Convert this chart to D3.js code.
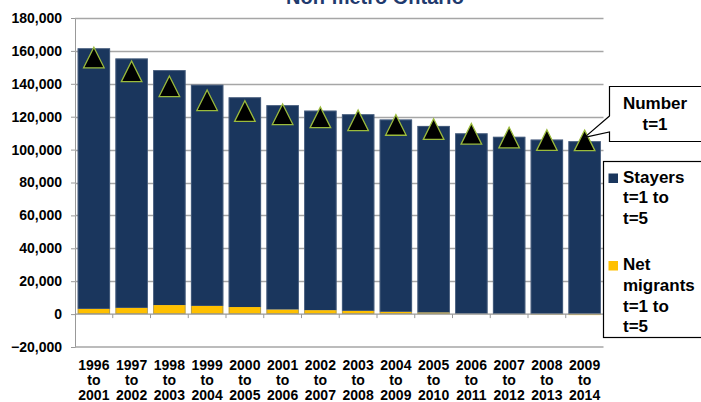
<!DOCTYPE html>
<html>
<head>
<meta charset="utf-8">
<script src="https://cdn.jsdelivr.net/npm/d3@7"></script>
<style>
  body { margin: 0; background: #fff; }
  svg { display: block; font-family: "Liberation Sans", Arial, sans-serif; font-weight: bold; }
  .tick text { fill: #000; }
</style>
</head>
<body>
<div class="chart"></div>
<script>
// periods on the x axis
const periods = ['1996 to 2001', '1997 to 2002', '1998 to 2003', '1999 to 2004', '2000 to 2005',
  '2001 to 2006', '2002 to 2007', '2003 to 2008', '2004 to 2009', '2005 to 2010',
  '2006 to 2011', '2007 to 2012', '2008 to 2013', '2009 to 2014'];
// series
const stayers = [158400, 151600, 142800, 134400, 127500, 124200, 121300, 119500, 116900, 113400, 109700, 107800, 106100, 105100];
const netMigrants = [3200, 3800, 5500, 5000, 4300, 2800, 2400, 2000, 1400, 1000, 200, -100, -300, -600];
const numberT1 = [156000, 147600, 138500, 130000, 123400, 121500, 119600, 117800, 115000, 112500, 109600, 107300, 105800, 105600];
const yTicks = [-20000, 0, 20000, 40000, 60000, 80000, 100000, 120000, 140000, 160000, 180000];

const W = 701, H = 402;
const plotL = 75, plotR = 603.5, plotT = 18, plotB = 347;

const svg = d3.select(".chart").append("svg")
  .attr("width", W)
  .attr("height", H);

// scales
const x = d3.scaleBand()
  .domain(periods)
  .range([plotL, plotR])
  .paddingInner(0.14)
  .paddingOuter(0.07);
const y = d3.scaleLinear()
  .domain([-20000, 180000])
  .range([plotB, plotT]);

// gridlines + y labels
const yAxis = svg.append("g")
  .attr("transform", `translate(${plotL},0)`)
  .call(d3.axisLeft(y).tickValues(yTicks).tickSize(4).tickPadding(9).tickFormat(d3.format(",")));
yAxis.select(".domain").attr("stroke", "#999");
yAxis.selectAll(".tick line").attr("stroke", "#999");
yAxis.selectAll(".tick text").style("font-size", "14px").style("font-weight", "bold");
svg.append("g").selectAll("line")
  .data(yTicks.filter(d => d > 0))
  .enter().append("line")
    .attr("x1", plotL).attr("x2", plotR)
    .attr("y1", d => Math.round(y(d)) + 0.5).attr("y2", d => Math.round(y(d)) + 0.5)
    .attr("stroke", "#a6a6a6")
    .attr("stroke-width", 1.3);
// bottom line
svg.append("line")
  .attr("x1", plotL).attr("x2", plotR)
  .attr("y1", y(-20000)).attr("y2", y(-20000))
  .attr("stroke", "#a6a6a6").attr("stroke-width", 1.3);

// stacked bars
const table = periods.map((p, i) => ({ period: p, net: netMigrants[i], stayers: stayers[i] }));
const series = d3.stack()
  .keys(["net", "stayers"])
  .offset(d3.stackOffsetDiverging)(table);
const color = { net: "#ffc000", stayers: "#1a365d" };

svg.append("g").selectAll("g")
  .data(series)
  .enter().append("g")
    .attr("fill", d => color[d.key])
  .selectAll("rect")
  .data(d => d)
  .enter().append("rect")
    .attr("x", d => x(d.data.period))
    .attr("width", x.bandwidth())
    .attr("y", d => y(Math.max(d[0], d[1])))
    .attr("height", d => Math.abs(y(d[0]) - y(d[1])));

// bar outline
svg.append("g").selectAll("rect")
  .data(table)
  .enter().append("rect")
    .attr("x", d => x(d.period) + 0.5)
    .attr("width", x.bandwidth() - 1)
    .attr("y", d => y(d.stayers + Math.max(d.net, 0)) + 0.5)
    .attr("height", d => y(0) - y(d.stayers + Math.max(d.net, 0)) - 1)
    .attr("fill", "none")
    .attr("stroke", "#6d7f99")
    .attr("stroke-width", 0.8)
    .attr("stroke-opacity", 0.6);

// zero line with category ticks
svg.append("line")
  .attr("x1", plotL).attr("x2", plotR)
  .attr("y1", y(0)).attr("y2", y(0))
  .attr("stroke", "#999").attr("stroke-width", 1.3);
svg.append("g").selectAll("line")
  .data(d3.range(1, periods.length))
  .enter().append("line")
    .attr("x1", i => plotL + (plotR - plotL) * i / periods.length)
    .attr("x2", i => plotL + (plotR - plotL) * i / periods.length)
    .attr("y1", y(0)).attr("y2", y(0) + 4)
    .attr("stroke", "#999");

// x labels
const xl = svg.append("g").selectAll("text")
  .data(periods)
  .enter().append("text")
    .attr("text-anchor", "middle")
    .attr("x", d => x(d) + x.bandwidth() / 2)
    .attr("y", 369.5)
    .style("font-size", "14px");
xl.selectAll("tspan")
  .data(d => d.split(" "))
  .enter().append("tspan")
    .attr("x", function () { return d3.select(this.parentNode).attr("x"); })
    .attr("dy", (d, i) => i === 0 ? 0 : 15)
    .text(d => d);

// triangle markers
const tri = 10.3;
svg.append("g").selectAll("path")
  .data(numberT1)
  .enter().append("path")
    .attr("transform", (d, i) => `translate(${x(periods[i]) + x.bandwidth() / 2},${y(d)})`)
    .attr("d", `M0,${-tri}L${tri},${tri}L${-tri},${tri}Z`)
    .attr("fill", "#000")
    .attr("stroke", "#9bbb3c")
    .attr("stroke-width", 1.3);

// title (cut by the top edge)
svg.append("text")
  .attr("x", 375).attr("y", 4)
  .attr("text-anchor", "middle")
  .attr("fill", "#1f3a6e")
  .style("font-size", "20px")
  .text("Non-metro Ontario");

// callout for the triangles
const tipX = x(periods[13]) + x.bandwidth() / 2, tipY = y(numberT1[13]) - 3;
svg.append("path")
  .attr("d", `M609.5,116 L${tipX},${tipY} L609.5,132 L609.5,141.5 L705,141.5 L705,86.5 L609.5,86.5 Z`)
  .attr("fill", "#fff")
  .attr("stroke", "#000")
  .attr("stroke-width", 1.2);
svg.append("text")
  .attr("x", 655).attr("y", 109)
  .attr("text-anchor", "middle")
  .style("font-size", "17px")
  .selectAll("tspan")
  .data(["Number", "t=1"])
  .enter().append("tspan")
    .attr("x", 655)
    .attr("dy", (d, i) => i === 0 ? 0 : 21)
    .text(d => d);

// legend
svg.append("rect")
  .attr("x", 603.5).attr("y", 161.5)
  .attr("width", 110).attr("height", 176)
  .attr("fill", "#fff")
  .attr("stroke", "#000")
  .attr("stroke-width", 1.2);
const legend = [
  { key: "stayers", lines: ["Stayers", "t=1 to", "t=5"], y: 182.5 },
  { key: "net", lines: ["Net", "migrants", "t=1 to", "t=5"], y: 270 }
];
const lg = svg.append("g").selectAll("g")
  .data(legend)
  .enter().append("g");
lg.append("rect")
  .attr("x", 608.5).attr("y", d => d.y - 9)
  .attr("width", 9.5).attr("height", 9.5)
  .attr("fill", d => color[d.key]);
lg.append("text")
  .attr("y", d => d.y)
  .style("font-size", "17px")
  .selectAll("tspan")
  .data(d => d.lines)
  .enter().append("tspan")
    .attr("x", 623)
    .attr("dy", (d, i) => i === 0 ? 0 : 20.8)
    .text(d => d);
</script>
</body>
</html>
